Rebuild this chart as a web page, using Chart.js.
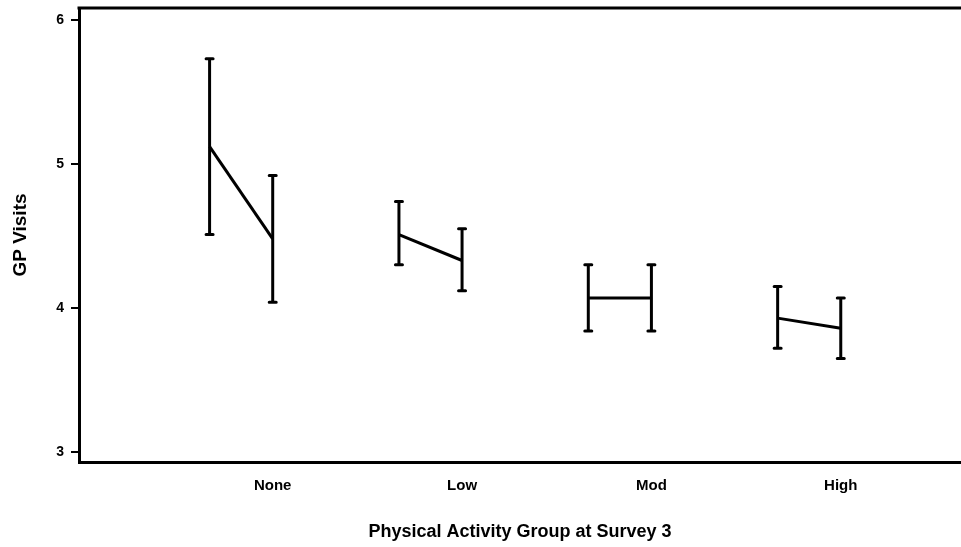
<!DOCTYPE html>
<html>
<head>
<meta charset="utf-8">
<script src="https://cdn.jsdelivr.net/npm/chart.js@4/dist/chart.umd.min.js"></script>
<style>
  html, body { margin: 0; padding: 0; background: #fff; }
  #wrap { width: 961px; height: 547px; }
</style>
</head>
<body>
<div id="wrap"><canvas id="c" width="961" height="547"></canvas></div>
<script>
const categories = ['None', 'Low', 'Mod', 'High'];
const yTickValues = [3, 4, 5, 6];
// first time point (left bar of each pair)
const firstMean  = [5.12, 4.51, 4.07, 3.93];
const firstLower = [4.51, 4.30, 3.84, 3.72];
const firstUpper = [5.73, 4.74, 4.30, 4.15];
// second time point (right bar of each pair, at the category label)
const secondMean  = [4.48, 4.33, 4.07, 3.86];
const secondLower = [4.04, 4.12, 3.84, 3.65];
const secondUpper = [4.92, 4.55, 4.30, 4.07];
const pairOffset = 1 / 3;

const datasets = categories.map((c, i) => ({
  label: c,
  data: [
    { x: i + 1 - pairOffset, y: firstMean[i], lo: firstLower[i], hi: firstUpper[i] },
    { x: i + 1, y: secondMean[i], lo: secondLower[i], hi: secondUpper[i] }
  ],
  borderColor: '#000',
  borderWidth: 3,
  pointRadius: 0,
  fill: false,
  tension: 0
}));

const errorBars = {
  id: 'errorBars',
  afterDatasetsDraw(chart) {
    const ctx = chart.ctx;
    const xs = chart.scales.x, ys = chart.scales.y;
    ctx.save();
    ctx.strokeStyle = '#000';
    ctx.lineWidth = 3;
    chart.data.datasets.forEach(ds => {
      ds.data.forEach(p => {
        const x = xs.getPixelForValue(p.x);
        const yl = ys.getPixelForValue(p.lo);
        const yh = ys.getPixelForValue(p.hi);
        ctx.beginPath();
        ctx.lineCap = 'butt';
        ctx.moveTo(x, yl); ctx.lineTo(x, yh);
        ctx.stroke();
        ctx.lineCap = 'round';
        ctx.beginPath();
        ctx.moveTo(x - 3.5, yl); ctx.lineTo(x + 3.5, yl);
        ctx.moveTo(x - 3.5, yh); ctx.lineTo(x + 3.5, yh);
        ctx.stroke();
      });
    });
    ctx.restore();
  }
};

const topFrame = {
  id: 'topFrame',
  afterDraw(chart) {
    const { ctx, chartArea } = chart;
    ctx.save();
    ctx.strokeStyle = '#000';
    ctx.lineWidth = 3;
    ctx.beginPath();
    ctx.moveTo(chartArea.left - 1.5, chartArea.top);
    ctx.lineTo(chart.width, chartArea.top);
    ctx.stroke();
    ctx.restore();
  }
};

new Chart(document.getElementById('c'), {
  type: 'line',
  data: { datasets },
  plugins: [errorBars, topFrame],
  options: {
    responsive: false,
    animation: false,
    events: [],
    layout: { padding: { top: 8, right: 0, left: 0, bottom: 0 } },
    plugins: { legend: { display: false }, tooltip: { enabled: false } },
    scales: {
      x: {
        type: 'linear',
        min: -0.023,
        max: 4.635,
        afterFit(s) { s.height = 85; s.paddingLeft = 0; s.paddingRight = 0; },
        afterBuildTicks(s) { s.ticks = [1, 2, 3, 4].map(v => ({ value: v })); },
        grid: { display: false, drawTicks: false },
        border: { display: true, color: '#000', width: 3 },
        ticks: {
          autoSkip: false, maxRotation: 0, padding: 15,
          color: '#000',
          font: { family: 'Liberation Sans', size: 15, weight: 'bold' },
          callback: v => categories[v - 1]
        },
        title: {
          display: true,
          text: 'Physical Activity Group at Survey 3',
          color: '#000',
          font: { family: 'Liberation Sans', size: 18, weight: 'bold' },
          padding: { top: 0, bottom: 4 }
        }
      },
      y: {
        type: 'linear',
        min: 2.931,
        max: 6.083,
        afterFit(s) { s.width = 79; s.paddingTop = 0; s.paddingBottom = 0; },
        afterBuildTicks(s) { s.ticks = yTickValues.map(v => ({ value: v })); },
        grid: { drawOnChartArea: false, drawTicks: true, tickLength: 8, color: '#000', lineWidth: 2 },
        border: { display: true, color: '#000', width: 3 },
        ticks: {
          padding: 7,
          color: '#000',
          font: { family: 'Liberation Sans', size: 14, weight: 'bold' }
        },
        title: {
          display: true,
          text: 'GP Visits',
          color: '#000',
          font: { family: 'Liberation Sans', size: 19, weight: 'bold' },
          padding: { top: 9, bottom: 0 }
        }
      }
    }
  }
});
</script>
</body>
</html>
